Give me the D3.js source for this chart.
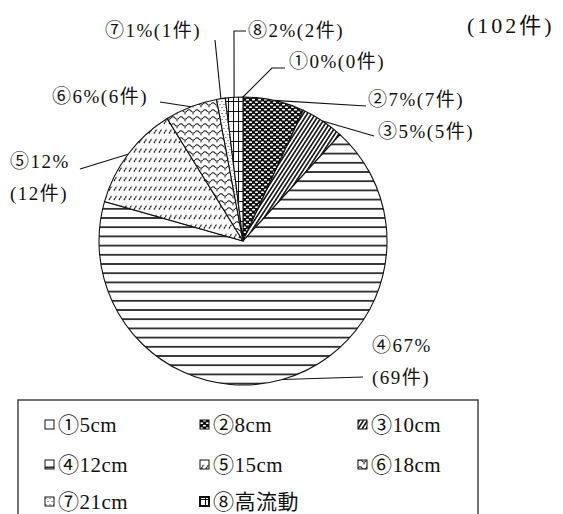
<!DOCTYPE html>
<meta charset="utf-8">
<style>
body { margin: 0; background: #fff; }
text { font-family: "Liberation Serif", "Noto Sans CJK JP", serif; fill: #111; }
</style>
<script src="https://d3js.org/d3.v7.min.js"></script>
<div id="chart"></div>
<script>
// categories and values
var keys    = ["①", "②", "③", "④", "⑤", "⑥", "⑦", "⑧"];
var counts  = [0, 7, 5, 69, 12, 6, 1, 2];
var percent = [0, 7, 5, 67, 12, 6, 1, 2];
var legendNames = ["①5cm", "②8cm", "③10cm", "④12cm", "⑤15cm", "⑥18cm", "⑦21cm", "⑧高流動"];
var totalLabel = "(102件)";

var width = 563, height = 514;
var cx = 243, cy = 241, r = 144;

var svg = d3.select("#chart").append("svg")
    .attr("width", width)
    .attr("height", height);

// fill patterns, one per slice
var defs = svg.append("defs");
function pat(id, w, h, tf) {
  var p = defs.append("pattern").attr("id", id)
    .attr("patternUnits", "userSpaceOnUse")
    .attr("width", w).attr("height", h);
  if (tf) p.attr("patternTransform", tf);
  return p;
}
// 1: blank
pat("p0", 4, 4).append("rect").attr("width", 4).attr("height", 4).attr("fill", "#fff");
// 2: black with white dots
var p1 = pat("p1", 6, 5);
p1.append("rect").attr("width", 6).attr("height", 5).attr("fill", "#111");
p1.append("ellipse").attr("cx", 1.5).attr("cy", 1.2).attr("rx", 1.6).attr("ry", 0.9).attr("fill", "#fff");
p1.append("ellipse").attr("cx", 4.5).attr("cy", 3.7).attr("rx", 1.6).attr("ry", 0.9).attr("fill", "#fff");
// 3: dense diagonal lines along the slice
var p2 = pat("p2", 8, 3.4, "rotate(-57)");
p2.append("rect").attr("width", 8).attr("height", 3.4).attr("fill", "#fff");
p2.append("line").attr("x1", 0).attr("x2", 8).attr("y1", 1.7).attr("y2", 1.7)
  .attr("stroke", "#111").attr("stroke-width", 1.6);
// 4: horizontal lines
var p3 = pat("p3", 10, 9.2);
p3.append("rect").attr("width", 10).attr("height", 9.2).attr("fill", "#fff");
p3.append("line").attr("x1", 0).attr("x2", 10).attr("y1", 4.6).attr("y2", 4.6)
  .attr("stroke", "#111").attr("stroke-width", 1.6);
// 5: short slanted dashes
var p4 = pat("p4", 5, 9.5);
p4.append("rect").attr("width", 5).attr("height", 9.5).attr("fill", "#fff");
p4.append("line").attr("x1", 1).attr("y1", 6.5).attr("x2", 3.8).attr("y2", 2)
  .attr("stroke", "#111").attr("stroke-width", 1.3).attr("stroke-dasharray", "1.8 0.7");
// 6: waves with dots
var p5 = pat("p5", 8, 7);
p5.append("rect").attr("width", 8).attr("height", 7).attr("fill", "#fff");
p5.append("path").attr("d", "M0 3 Q2 0.5 4 3 T8 3").attr("fill", "none")
  .attr("stroke", "#111").attr("stroke-width", 1.1);
p5.append("circle").attr("cx", 6).attr("cy", 5.8).attr("r", 0.7).attr("fill", "#222");
// 7: sparse dots
var p6 = pat("p6", 4, 6);
p6.append("rect").attr("width", 4).attr("height", 6).attr("fill", "#fff");
p6.append("circle").attr("cx", 1).attr("cy", 1.5).attr("r", 0.6).attr("fill", "#333");
p6.append("circle").attr("cx", 3).attr("cy", 4.5).attr("r", 0.6).attr("fill", "#333");
// 8: grid
var p7 = pat("p7", 5, 10);
p7.append("rect").attr("width", 5).attr("height", 10).attr("fill", "#fff");
p7.append("path").attr("d", "M0.5 0V10M0 0.5H5").attr("stroke", "#111").attr("stroke-width", 1.1);

var data = keys.map(function(k, i) {
  return {key: k, count: counts[i], pct: percent[i], name: legendNames[i], i: i};
});

var pie = d3.pie().sort(null).value(function(d) { return d.count; });
var arcs = pie(data);
var arc = d3.arc().innerRadius(0).outerRadius(r);

var g = svg.append("g").attr("transform", "translate(" + cx + "," + cy + ")");
g.selectAll("path.slice")
  .data(arcs)
  .enter().append("path")
    .attr("class", "slice")
    .attr("d", arc)
    .attr("fill", function(d) { return "url(#p" + d.data.i + ")"; })
    .attr("stroke", "#111")
    .attr("stroke-width", 1.1);

// point on the rim at the middle of a slice
function rim(d) {
  var p = d3.pointRadial((d.startAngle + d.endAngle) / 2, r);
  return [cx + p[0], cy + p[1]];
}

// label text positions and leader bends (layout only)
var labelPos = [
  {x: 289, y: 68,  lines: ["①0%(0件)"], bend: [[285, 68], [272, 68]]},
  {x: 368, y: 106, lines: ["②7%(7件)"], bend: [[366, 106]]},
  {x: 378, y: 138, lines: ["③5%(5件)"], bend: [[374, 136]]},
  {x: 372, y: 352, lines: ["④67%", "(69件)"], bend: [[363, 377]]},
  {x: 10,  y: 168, lines: ["⑤12%", "(12件)"], bend: [[80, 169]]},
  {x: 52,  y: 103, lines: ["⑥6%(6件)"], bend: [[160, 102]]},
  {x: 105, y: 37,  lines: ["⑦1%(1件)"], bend: [[215, 40]]},
  {x: 248, y: 37,  lines: ["⑧2%(2件)"], bend: [[246, 31], [234, 31]]}
];

var line = d3.line();
arcs.forEach(function(d, i) {
  var lp = labelPos[i];
  var pts = lp.bend.slice();
  pts.push(rim(d));
  svg.append("path").attr("d", line(pts))
    .attr("fill", "none").attr("stroke", "#111").attr("stroke-width", 1.1);
  var t = svg.append("text").attr("x", lp.x).attr("y", lp.y)
    .style("font-size", "19px").style("letter-spacing", "1.5px");
  lp.lines.forEach(function(s, j) {
    t.append("tspan").attr("x", lp.x).attr("dy", j === 0 ? 0 : 32).text(s);
  });
});

svg.append("text").attr("x", 467).attr("y", 33)
  .style("font-size", "22px").style("letter-spacing", "3px").text(totalLabel);

// legend
var lg = svg.append("g");
lg.append("rect").attr("x", 18).attr("y", 400).attr("width", 460).attr("height", 130)
  .attr("fill", "none").attr("stroke", "#444").attr("stroke-width", 1.5);
var colX = [45, 200, 358], rowY = [432, 472, 509];
var item = lg.selectAll("g.item").data(data).enter().append("g")
  .attr("class", "item")
  .attr("transform", function(d) {
    return "translate(" + colX[d.i % 3] + "," + rowY[Math.floor(d.i / 3)] + ")";
  });
item.append("rect").attr("x", 0).attr("y", -12).attr("width", 9).attr("height", 9)
  .attr("fill", function(d) { return "url(#p" + d.i + ")"; })
  .attr("stroke", "#111").attr("stroke-width", function(d) { return d.i === 7 ? 2 : 1; });
item.append("text").attr("x", 13).attr("y", 0)
  .style("font-size", "21px").style("letter-spacing", "0.5px")
  .text(function(d) { return d.name; });
</script>
